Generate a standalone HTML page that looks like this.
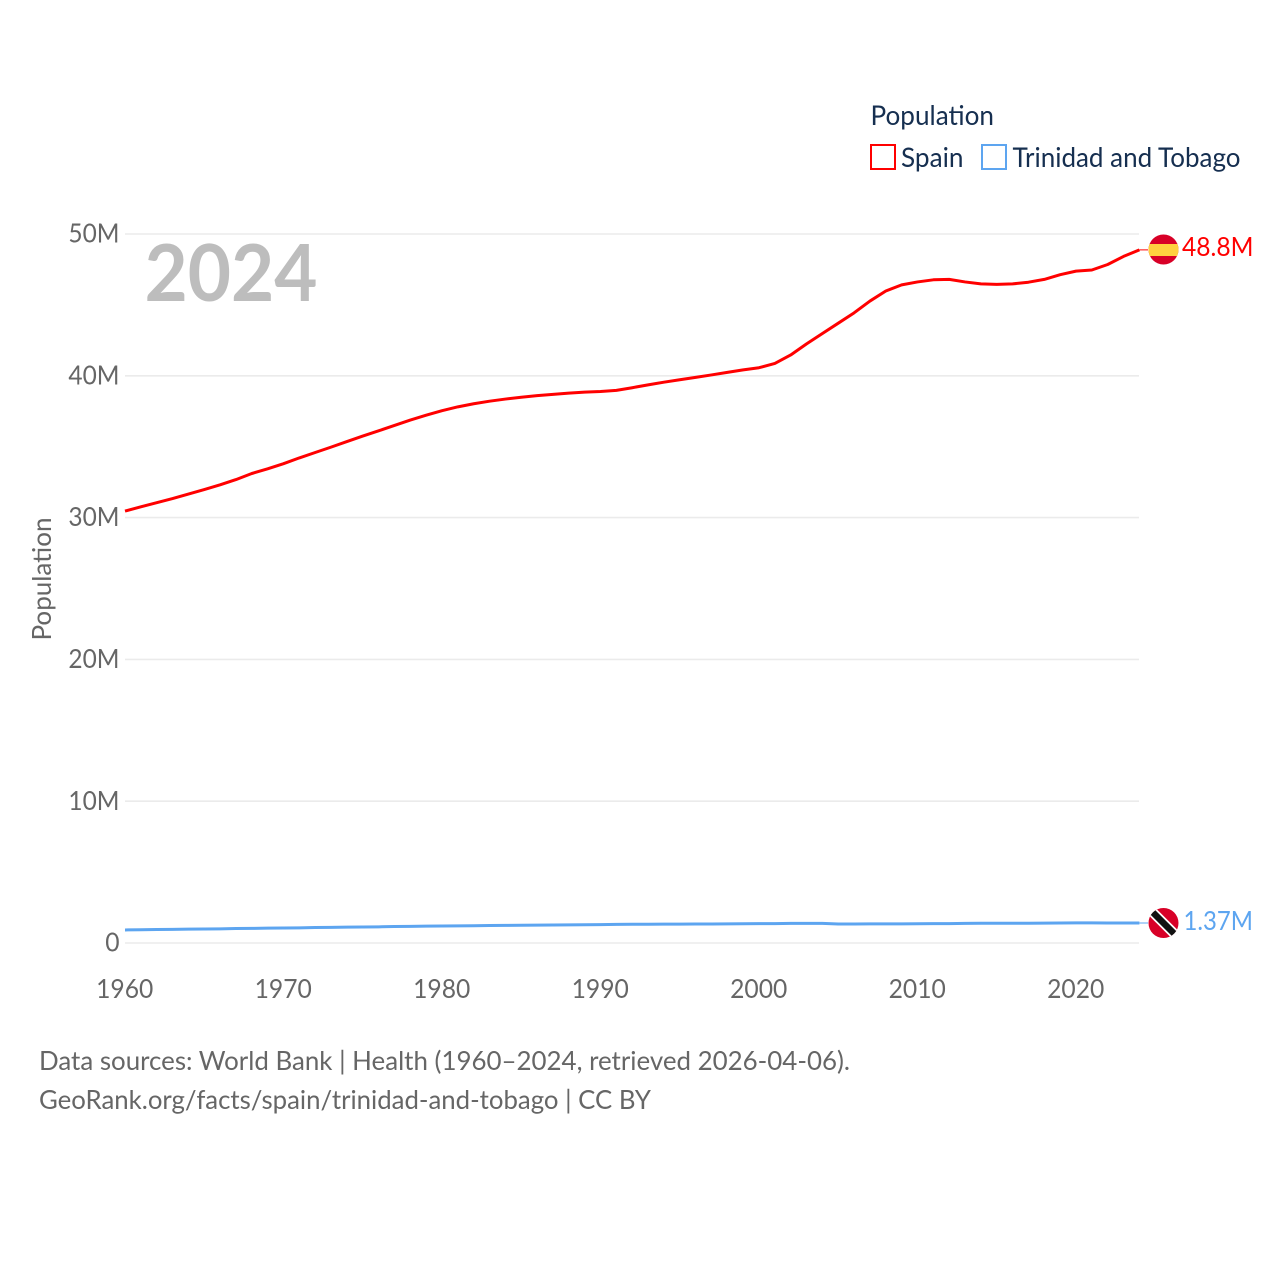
<!DOCTYPE html>
<html lang="en">
<head>
<meta charset="utf-8">
<title>Population: Spain and Trinidad and Tobago</title>
<style>
html,body{margin:0;padding:0;background:#fff}
svg{display:block}
text{font-family:"Lato","Carlito","Liberation Sans",sans-serif}
</style>
</head>
<body>
<svg id="chart" xmlns="http://www.w3.org/2000/svg" width="1280" height="1280" viewBox="0 0 1280 1280">
  <rect x="0" y="0" width="1280" height="1280" fill="#ffffff"/>
  <g id="grid"></g>
  <g id="yticks"></g>
  <g id="xticks"></g>
  <text transform="translate(51,579) rotate(-90)" text-anchor="middle" font-size="26.5" fill="#666666" textLength="123" lengthAdjust="spacingAndGlyphs">Population</text>
  <text x="144.5" y="301" font-size="79" font-weight="700" fill="#bdbdbd" textLength="173" lengthAdjust="spacingAndGlyphs">2024</text>
  <g id="series"></g>
  <g>
    <text x="870.5" y="125" font-size="27.5" fill="#162f50" textLength="123.5" lengthAdjust="spacingAndGlyphs">Population</text>
    <rect x="871" y="145" width="24" height="24" fill="none" stroke="#ff0000" stroke-width="2"/>
    <text x="901" y="167" font-size="27.5" fill="#162f50" textLength="62.5" lengthAdjust="spacingAndGlyphs">Spain</text>
    <rect x="982" y="145" width="24" height="24" fill="none" stroke="#5da5f0" stroke-width="2"/>
    <text x="1012.5" y="167" font-size="27.5" fill="#162f50" textLength="228" lengthAdjust="spacingAndGlyphs">Trinidad and Tobago</text>
  </g>
  <defs>
    <clipPath id="flagClipEs"><circle cx="1163.5" cy="249.5" r="15"/></clipPath>
    <clipPath id="flagClipTt"><circle cx="1163.5" cy="923" r="15"/></clipPath>
  </defs>
  <g id="flag-es" clip-path="url(#flagClipEs)">
    <rect x="1148" y="234" width="31" height="31" fill="#d80027"/>
    <rect x="1148" y="244" width="31" height="12" fill="#ffd140"/>
  </g>
  <g id="flag-tt" clip-path="url(#flagClipTt)">
    <rect x="1147" y="907" width="33" height="32" fill="#d80027"/>
    <line x1="1148" y1="907.5" x2="1179" y2="938.5" stroke="#ffffff" stroke-width="10"/>
    <line x1="1148" y1="907.5" x2="1179" y2="938.5" stroke="#111111" stroke-width="6.5"/>
  </g>
  <text id="endSpain" x="1182" y="256" font-size="26.5" fill="#ff0000" textLength="71.5" lengthAdjust="spacingAndGlyphs"></text>
  <text id="endTt" x="1183.5" y="930" font-size="26.5" fill="#5da5f0" textLength="69.5" lengthAdjust="spacingAndGlyphs"></text>
  <g>
    <text x="39" y="1070" font-size="26.5" fill="#666666" textLength="811" lengthAdjust="spacingAndGlyphs">Data sources: World Bank | Health (1960–2024, retrieved 2026-04-06).</text>
    <text x="39" y="1109" font-size="26.5" fill="#666666" textLength="612" lengthAdjust="spacingAndGlyphs">GeoRank.org/facts/spain/trinidad-and-tobago | CC BY</text>
  </g>
</svg>
<script>
const startYear = 1960;
const yTickValues = [0, 10, 20, 30, 40, 50];
const yTickLabels = ["0", "10M", "20M", "30M", "40M", "50M"];
const xTickYears = [1960, 1970, 1980, 1990, 2000, 2010, 2020];
const spainValues = [
  30.46, 30.76, 31.05, 31.34, 31.66, 31.98, 32.31, 32.68, 33.11, 33.44,
  33.80, 34.21, 34.59, 34.97, 35.36, 35.75, 36.12, 36.50, 36.88, 37.22,
  37.54, 37.81, 38.03, 38.21, 38.36, 38.49, 38.60, 38.69, 38.78, 38.85,
  38.89, 38.97, 39.16, 39.36, 39.55, 39.72, 39.89, 40.06, 40.24, 40.42,
  40.57, 40.87, 41.47, 42.25, 42.98, 43.71, 44.44, 45.27, 45.98, 46.41,
  46.62, 46.77, 46.80, 46.62, 46.48, 46.45, 46.48, 46.60, 46.80, 47.13,
  47.38, 47.46, 47.85, 48.42, 48.88
];
const trinidadValues = [
  0.92, 0.93, 0.95, 0.96, 0.98, 0.99, 1.00, 1.02, 1.03, 1.05,
  1.06, 1.07, 1.09, 1.10, 1.12, 1.13, 1.14, 1.16, 1.17, 1.19,
  1.20, 1.21, 1.22, 1.23, 1.24, 1.25, 1.26, 1.27, 1.28, 1.29,
  1.30, 1.31, 1.32, 1.32, 1.33, 1.33, 1.34, 1.34, 1.35, 1.36,
  1.37, 1.37, 1.38, 1.38, 1.38, 1.34, 1.34, 1.35, 1.35, 1.35,
  1.36, 1.37, 1.37, 1.38, 1.39, 1.39, 1.39, 1.39, 1.40, 1.41,
  1.42, 1.42, 1.41, 1.41, 1.41
];
const endLabels = ["48.8M", "1.37M"];

const NS = "http://www.w3.org/2000/svg";
function xScale(year) { return 125 + (year - 1960) * 15.85; }
function yScale(millions) { return 943 - millions * 14.18; }
function labelWidth(label) {
  let w = 0;
  for (const ch of label) w += ch === "M" ? 22.5 : 14.3;
  return w;
}

const grid = document.getElementById("grid");
const yticks = document.getElementById("yticks");
const xticks = document.getElementById("xticks");
const series = document.getElementById("series");

yTickValues.forEach(function (v, i) {
  const gl = document.createElementNS(NS, "line");
  
  
  gl.setAttribute("x1", 125);
  gl.setAttribute("x2", 1139);
  gl.setAttribute("y1", yScale(v));
  gl.setAttribute("y2", yScale(v));
  gl.setAttribute("stroke", "#ebebeb");
  gl.setAttribute("stroke-width", "1.6");
  grid.appendChild(gl);

  const t = document.createElementNS(NS, "text");
  
  
  t.setAttribute("x", 119.5);
  t.setAttribute("y", yScale(v) + 8.6);
  t.setAttribute("text-anchor", "end");
  t.setAttribute("font-size", "26.5");
  t.setAttribute("fill", "#666666");
  t.setAttribute("textLength", labelWidth(yTickLabels[i]));
  t.setAttribute("lengthAdjust", "spacingAndGlyphs");
  t.textContent = yTickLabels[i];
  yticks.appendChild(t);
});

xTickYears.forEach(function (yr) {
  const t = document.createElementNS(NS, "text");
  
  
  t.setAttribute("x", xScale(yr) - 0.3);
  t.setAttribute("y", 998);
  t.setAttribute("text-anchor", "middle");
  t.setAttribute("font-size", "26.5");
  t.setAttribute("fill", "#666666");
  t.setAttribute("textLength", labelWidth(String(yr)));
  t.setAttribute("lengthAdjust", "spacingAndGlyphs");
  t.textContent = String(yr);
  xticks.appendChild(t);
});

function pointsFor(values) {
  return values.map(function (v, i) {
    return xScale(startYear + i).toFixed(2) + "," + yScale(v).toFixed(2);
  }).join(" ");
}

const spainLine = document.createElementNS(NS, "polyline");


spainLine.setAttribute("points", pointsFor(spainValues));
spainLine.setAttribute("fill", "none");
spainLine.setAttribute("stroke", "#ff0000");
spainLine.setAttribute("stroke-width", "3");
spainLine.setAttribute("stroke-linejoin", "round");
series.appendChild(spainLine);

const trinidadLine = document.createElementNS(NS, "polyline");


trinidadLine.setAttribute("points", pointsFor(trinidadValues));
trinidadLine.setAttribute("fill", "none");
trinidadLine.setAttribute("stroke", "#5da5f0");
trinidadLine.setAttribute("stroke-width", "3");
trinidadLine.setAttribute("stroke-linejoin", "round");
series.appendChild(trinidadLine);

const lastYear = startYear + spainValues.length - 1;
const spainConnector = document.createElementNS(NS, "line");


spainConnector.setAttribute("x1", xScale(lastYear));
spainConnector.setAttribute("x2", 1148);
spainConnector.setAttribute("y1", yScale(spainValues[spainValues.length - 1]));
spainConnector.setAttribute("y2", yScale(spainValues[spainValues.length - 1]));
spainConnector.setAttribute("stroke", "#ff0000");
spainConnector.setAttribute("stroke-width", "1");
series.appendChild(spainConnector);

const trinidadConnector = document.createElementNS(NS, "line");


trinidadConnector.setAttribute("x1", xScale(lastYear));
trinidadConnector.setAttribute("x2", 1148);
trinidadConnector.setAttribute("y1", yScale(trinidadValues[trinidadValues.length - 1]));
trinidadConnector.setAttribute("y2", yScale(trinidadValues[trinidadValues.length - 1]));
trinidadConnector.setAttribute("stroke", "#5da5f0");
trinidadConnector.setAttribute("stroke-width", "1");
series.appendChild(trinidadConnector);

document.getElementById("endSpain").textContent = endLabels[0];
document.getElementById("endTt").textContent = endLabels[1];
</script>
</body>
</html>
